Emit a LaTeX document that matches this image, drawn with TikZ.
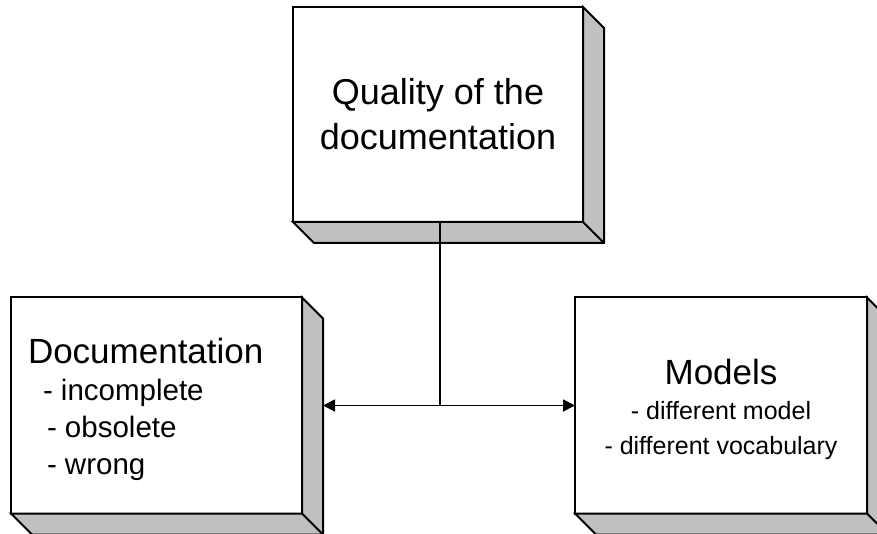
\documentclass[tikz,border=0pt]{standalone}
\usepackage{fontspec}
\setmainfont{Liberation Sans}
\usetikzlibrary{calc, positioning, arrows.meta}
\definecolor{sidegray}{HTML}{C0C0C0}

\begin{document}
\begin{tikzpicture}[x=1pt, y=1pt]
    \tikzset{
        block/.style={draw, line width=2pt, fill=white, outer sep=0pt,
            minimum width=291pt, minimum height=216pt, inner xsep=10pt,
            text width=270pt, align=flush center},
        side/.style={draw, line width=2pt, fill=sidegray, line join=miter},
        link/.style={line width=1.8pt},
        tip/.style={-{Triangle[length=12pt, width=12pt]}}
    }
    \useasboundingbox (0,0) rectangle (877,533);
    \clip (0,0) rectangle (877,533);

    \node[block, minimum width=290pt, minimum height=215pt,
          font=\fontsize{36}{45}\selectfont] (quality) at (438,418.5)
        {Quality of the\\ documentation};
    \node[block, text width=257pt, inner xsep=17pt, align=flush left,
          font=\fontsize{35}{37}\selectfont] (docs) at (156.5,127.5)
        {\rule{0pt}{33pt}Documentation\\
         \fontsize{29.5}{37}\selectfont\hspace*{15pt}- incomplete\\
         \hspace*{19pt}- obsolete\\
         \hspace*{19pt}- wrong};
    \node[block, minimum width=292pt,
          font=\fontsize{35}{35}\selectfont] (models) at (721,127.5)
        {\rule{0pt}{34pt}Models\\
         \fontsize{25}{35}\selectfont - different model\\
         - different vocabulary};

    % depth of the boxes
    \foreach \b in {quality, docs, models} {
        \filldraw[side] (\b.north east) -- ++(21,-21)
            -- ($(\b.south east)+(21,-21)$) -- ($(\b.south west)+(21,-21)$)
            -- (\b.south west) -- (\b.south east) -- cycle;
        \draw[side] (\b.south east) -- ++(21,-21);
    }

    \coordinate (junction) at (440,127.5);
    \coordinate (docsside) at ($(docs.east)+(21,0)$);

    \draw[link] (junction |- quality.south) -- (junction);
    \draw[link, tip] (junction) -- (docsside);
    \draw[link, tip] (junction) -- (models.west);

\end{tikzpicture}
\end{document}
